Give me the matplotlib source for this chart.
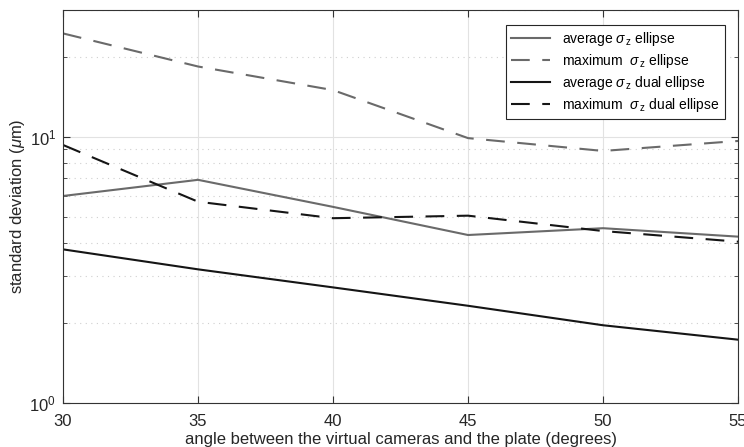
import matplotlib
matplotlib.use("Agg")
import matplotlib.pyplot as plt
from matplotlib.ticker import LogLocator, NullFormatter, FixedLocator

plt.rcParams['font.family'] = ['Liberation Sans', 'DejaVu Sans']
plt.rcParams['mathtext.fontset'] = 'custom'
plt.rcParams['mathtext.rm'] = 'Liberation Sans'
plt.rcParams['mathtext.it'] = 'Liberation Sans:italic'
plt.rcParams['mathtext.default'] = 'rm'

angles = [30, 35, 40, 45, 50, 55]
avg_ellipse = [6.0, 6.9, 5.46, 4.28, 4.54, 4.22]
max_ellipse = [24.5, 18.4, 15.0, 9.9, 8.86, 9.66]
avg_dual = [3.78, 3.18, 2.72, 2.32, 1.96, 1.73]
max_dual = [9.33, 5.71, 4.95, 5.06, 4.43, 4.04]

gray = '#6a6a6a'
dark = '#151515'

fig = plt.figure(figsize=(7.44, 4.47), dpi=100)
ax = fig.add_axes([0.0847, 0.0984, 0.9073, 0.8792])

sig = r'$\mathit{\sigma}_{\,\mathrm{z}}$'
ax.plot(angles, avg_ellipse, color=gray, lw=1.5, ls='-', label='average ' + sig + ' ellipse')
ax.plot(angles, max_ellipse, color=gray, lw=1.5, ls=(0, (9, 6)), label='maximum  ' + sig + ' ellipse')
ax.plot(angles, avg_dual, color=dark, lw=1.5, ls='-', label='average ' + sig + ' dual ellipse')
ax.plot(angles, max_dual, color=dark, lw=1.5, ls=(0, (9, 6)), label='maximum  ' + sig + ' dual ellipse')

ax.set_yscale('log')
ax.set_xlim(30, 55)
ax.set_ylim(1, 30)
ax.xaxis.set_major_locator(FixedLocator([30, 35, 40, 45, 50, 55]))
ax.yaxis.set_major_locator(LogLocator(base=10, numticks=5))
ax.yaxis.set_minor_locator(LogLocator(base=10, subs=range(2, 10), numticks=20))
ax.yaxis.set_minor_formatter(NullFormatter())

ax.grid(True, which='major', color='#e2e2e2', lw=0.8, ls='-')
ax.grid(True, which='minor', axis='y', color='#cfcfcf', lw=0.8, ls=(0, (1, 4)))
ax.set_axisbelow(True)

ax.tick_params(which='both', direction='in', top=True, right=True, colors='#333333',
               labelcolor='#262626', labelsize=12)
ax.tick_params(which='major', length=5)
ax.tick_params(which='minor', length=3)
ax.tick_params(axis='x', pad=8)
ax.tick_params(axis='y', pad=5)
for s in ax.spines.values():
    s.set_color('#333333')
    s.set_linewidth(0.8)

ax.set_xlabel('angle between the virtual cameras and the plate (degrees)', fontsize=12, color='#262626', labelpad=2)
ax.set_ylabel(r'standard deviation ($\mathit{\mu}$m)', fontsize=12, color='#262626', labelpad=2)

leg = ax.legend(loc='upper right', bbox_to_anchor=(0.98, 0.962), fontsize=10,
                frameon=True, fancybox=False, edgecolor='#262626', framealpha=1,
                handlelength=2.8, borderpad=0.35, labelspacing=0.3, handletextpad=0.9,
                borderaxespad=0.0)
leg.get_frame().set_linewidth(0.8)

fig.savefig('out.png', dpi=100)
